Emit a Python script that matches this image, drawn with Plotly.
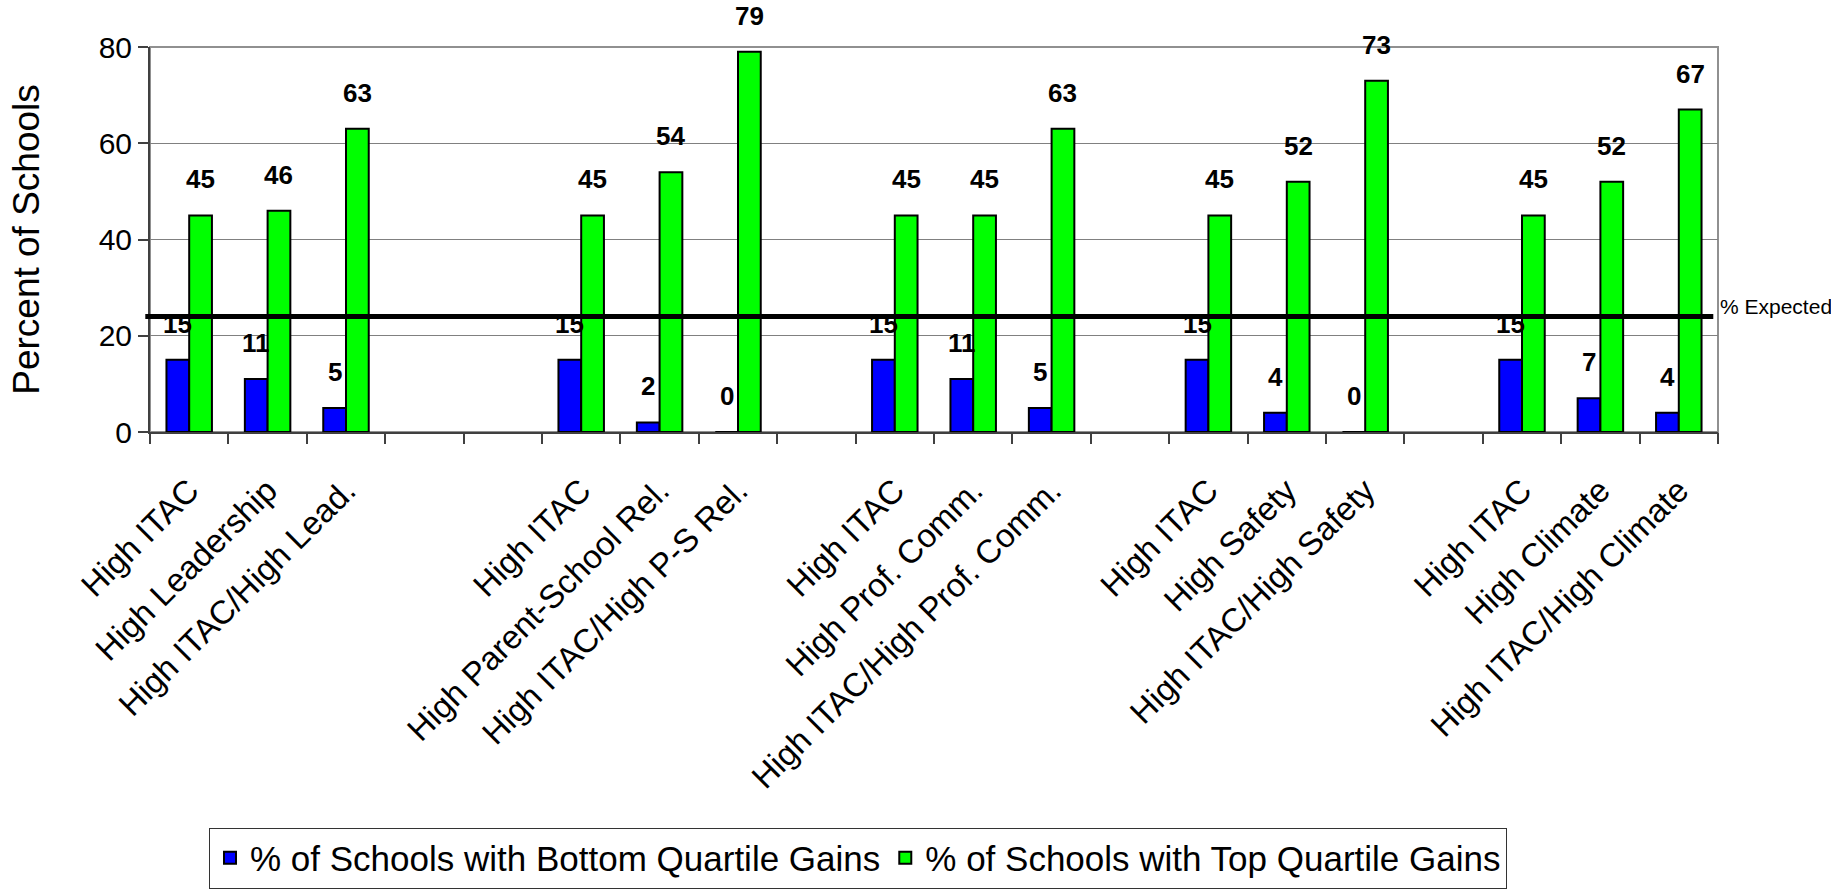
import plotly.graph_objects as go

categories = [
    "High ITAC", "High Leadership", "High ITAC/High Lead.", "", "",
    "High ITAC", "High Parent-School Rel.", "High ITAC/High P-S Rel.", "",
    "High ITAC", "High Prof. Comm.", "High ITAC/High Prof. Comm.", "",
    "High ITAC", "High Safety", "High ITAC/High Safety", "",
    "High ITAC", "High Climate", "High ITAC/High Climate",
]
bottom_gains = [15, 11, 5, None, None, 15, 2, 0, None, 15, 11, 5, None, 15, 4, 0, None, 15, 7, 4]
top_gains = [45, 46, 63, None, None, 45, 54, 79, None, 45, 45, 63, None, 45, 52, 73, None, 45, 52, 67]
expected_pct = 24
series_names = ["% of Schools with Bottom Quartile Gains", "% of Schools with Top Quartile Gains"]
y_ticks = [0, 20, 40, 60, 80]

FONT = "Liberation Sans, Arial, sans-serif"
W, H = 1831, 893
ML, MR, MT, MB = 150, 113, 47, 461
BARGAP = 0.42

x_idx = list(range(len(categories)))
boundaries = [i - 0.5 for i in range(len(categories) + 1)]

fig = go.Figure()
fig.add_trace(go.Bar(
    x=x_idx, y=bottom_gains, name=series_names[0],
    marker=dict(color="#0000FF", line=dict(color="black", width=2)),
    hoverinfo="y",
))
fig.add_trace(go.Bar(
    x=x_idx, y=top_gains, name=series_names[1],
    marker=dict(color="#00FF00", line=dict(color="black", width=2)),
    hoverinfo="y",
))
# helper invisible trace so the boundary-tick axis is drawn
fig.add_trace(go.Scatter(x=[0], y=[0], xaxis="x2", mode="markers",
                         marker=dict(opacity=0), showlegend=False, hoverinfo="skip"))

plot_w = W - ML - MR
bar_px = plot_w / len(categories) * (1 - BARGAP) / 2
annotations = []
for i, (b, t) in enumerate(zip(bottom_gains, top_gains)):
    for val, shift in ((b, -bar_px / 2), (t, bar_px / 2)):
        if val is None:
            continue
        annotations.append(dict(
            x=i, y=val, xref="x", yref="y", text=f"<b>{val}</b>", showarrow=False,
            xshift=shift, yshift=36, yanchor="middle",
            font=dict(family=FONT, size=26, color="black"),
        ))
annotations.append(dict(
    x=1.0, y=expected_pct, xref="paper", yref="y", text="% Expected", showarrow=False,
    xanchor="left", yanchor="middle", yshift=10, xshift=0,
    font=dict(family=FONT, size=21, color="black"),
))

fig.update_layout(
    width=W, height=H,
    margin=dict(l=ML, r=MR, t=MT, b=MB, autoexpand=False),
    paper_bgcolor="white", plot_bgcolor="white",
    barmode="group", bargap=BARGAP, bargroupgap=0,
    font=dict(family=FONT, color="black"),
    xaxis=dict(
        range=[-0.5, len(categories) - 0.5],
        tickmode="array", tickvals=x_idx, ticktext=categories,
        tickangle=-45, tickfont=dict(size=33, family=FONT, color="black"),
        ticks="outside", ticklen=24, tickcolor="rgba(0,0,0,0)",
        showgrid=False, zeroline=False,
        showline=True, linecolor="#404040", linewidth=2,
    ),
    xaxis2=dict(
        overlaying="x", anchor="y", side="bottom",
        range=[-0.5, len(categories) - 0.5],
        tickmode="array", tickvals=boundaries, ticks="outside", ticklen=11,
        tickcolor="#404040", tickwidth=1.5, showticklabels=False,
        showgrid=False, zeroline=False, showline=False,
    ),
    yaxis=dict(
        range=[0, 80], tickmode="array", tickvals=y_ticks,
        ticks="outside", ticklen=10, tickcolor="#404040", tickwidth=1.5,
        tickfont=dict(size=30, family=FONT, color="black"),
        showgrid=True, gridcolor="#808080", gridwidth=1,
        zeroline=False, showline=True, linecolor="#404040", linewidth=2,
        title=dict(text="Percent of Schools", font=dict(size=37, family=FONT, color="black"),
                   standoff=48),
    ),
    legend=dict(
        orientation="h", x=(858 - ML) / plot_w, xanchor="center",
        y=(MT + (H - MT - MB) - 858) / (H - MT - MB), yanchor="middle",
        font=dict(size=35, family=FONT, color="black"),
        bordercolor="#333333", borderwidth=1, bgcolor="white",
        traceorder="normal",
    ),
    shapes=[
        dict(type="rect", xref="paper", yref="paper", x0=0, x1=1, y0=0, y1=1,
             line=dict(color="#909090", width=2), layer="below"),
        dict(type="line", xref="paper", yref="y", x0=-0.003, x1=0.997,
             y0=expected_pct, y1=expected_pct, line=dict(color="black", width=5),
             layer="above"),
    ],
    annotations=annotations,
    showlegend=True,
)

fig.write_html("out.html")
